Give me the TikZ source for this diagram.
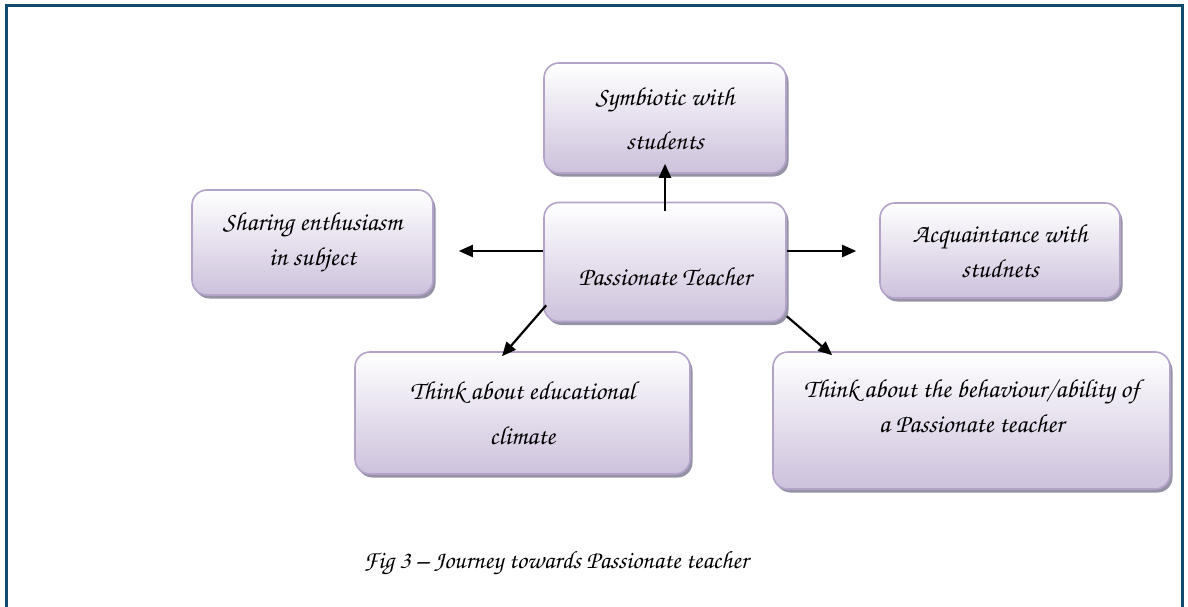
\documentclass[tikz,border=0pt]{standalone}
\usepackage[T1,TU]{fontenc}
\usetikzlibrary{calc,shadows,arrows.meta}
\definecolor{framec}{RGB}{18,74,107}
\definecolor{boxedge}{RGB}{180,163,201}
\definecolor{boxbot}{RGB}{205,193,220}
\definecolor{shadowc}{RGB}{150,146,165}
\newcommand{\scriptfnt}[2]{\fontencoding{T1}\fontfamily{pzc}\fontseries{mb}\fontshape{it}\fontsize{#1}{#2}\selectfont}
\tikzset{
  box/.style={draw=boxedge, line width=1.6pt, rounded corners=15pt,
    top color=white, bottom color=boxbot, align=center, inner sep=4pt,
    drop shadow={shadow xshift=2.5pt, shadow yshift=-3.5pt, fill=shadowc, opacity=1},
    text=black},
  arr/.style={line width=2.2pt, -{Triangle[length=14pt,width=12pt]}},
}
\begin{document}
\begin{tikzpicture}[x=1pt,y=-1pt]
\useasboundingbox (0,0) rectangle (1188,607);
\fill[white] (0,0) rectangle (1188,607);
\draw[framec, line width=3pt] (6,607) -- (6,6) -- (1182,6) -- (1182,607);

\node[box, minimum width=242pt, minimum height=110pt, font=\scriptfnt{26}{44}] (sym) at (665,118) {Symbiotic with\\students};
\node[box, minimum width=242pt, minimum height=119pt, font=\scriptfnt{26}{35}] (pas) at (665,262) {\rule{0pt}{47pt}Passionate Teacher};
\node[box, minimum width=241pt, minimum height=105pt, font=\scriptfnt{26}{35}] (sha) at (312.5,242.5) {Sharing enthusiasm\\in subject};
\node[box, minimum width=240pt, minimum height=95pt, font=\scriptfnt{26}{35}] (acq) at (1000,250.5) {Acquaintance with\\studnets};
\node[box, minimum width=335pt, minimum height=122pt, font=\scriptfnt{26}{45}] (edu) at (522.5,413) {Think about educational\\climate};
\node[box, minimum width=397pt, minimum height=137pt, font=\scriptfnt{26}{35}] (beh) at (971.5,420.5) {Think about the behaviour/ability of\\a Passionate teacher\rule[-30pt]{0pt}{0pt}};

\node[font=\scriptfnt{25}{30}] (cap) at (556,563) {Fig 3 -- Journey towards Passionate teacher};

\draw[arr] ($(pas.north)+(0,9)$) -- ($(sym.south)+(0,-10)$);
\draw[arr] ($(pas.west)+(0,-11)$) -- ($(sha.east |- pas.west)+(25,-11)$);
\draw[arr] ($(pas.east)+(0,-11)$) -- ($(acq.west |- pas.east)+(-23,-11)$);
\draw[arr] ($(pas.south west)+(3,-17)$) -- ($(edu.north)+(-20.5,5)$);
\draw[arr] ($(pas.south east)+(0,-6)$) -- ($(beh.north west)+(60,4)$);
\end{tikzpicture}
\end{document}
